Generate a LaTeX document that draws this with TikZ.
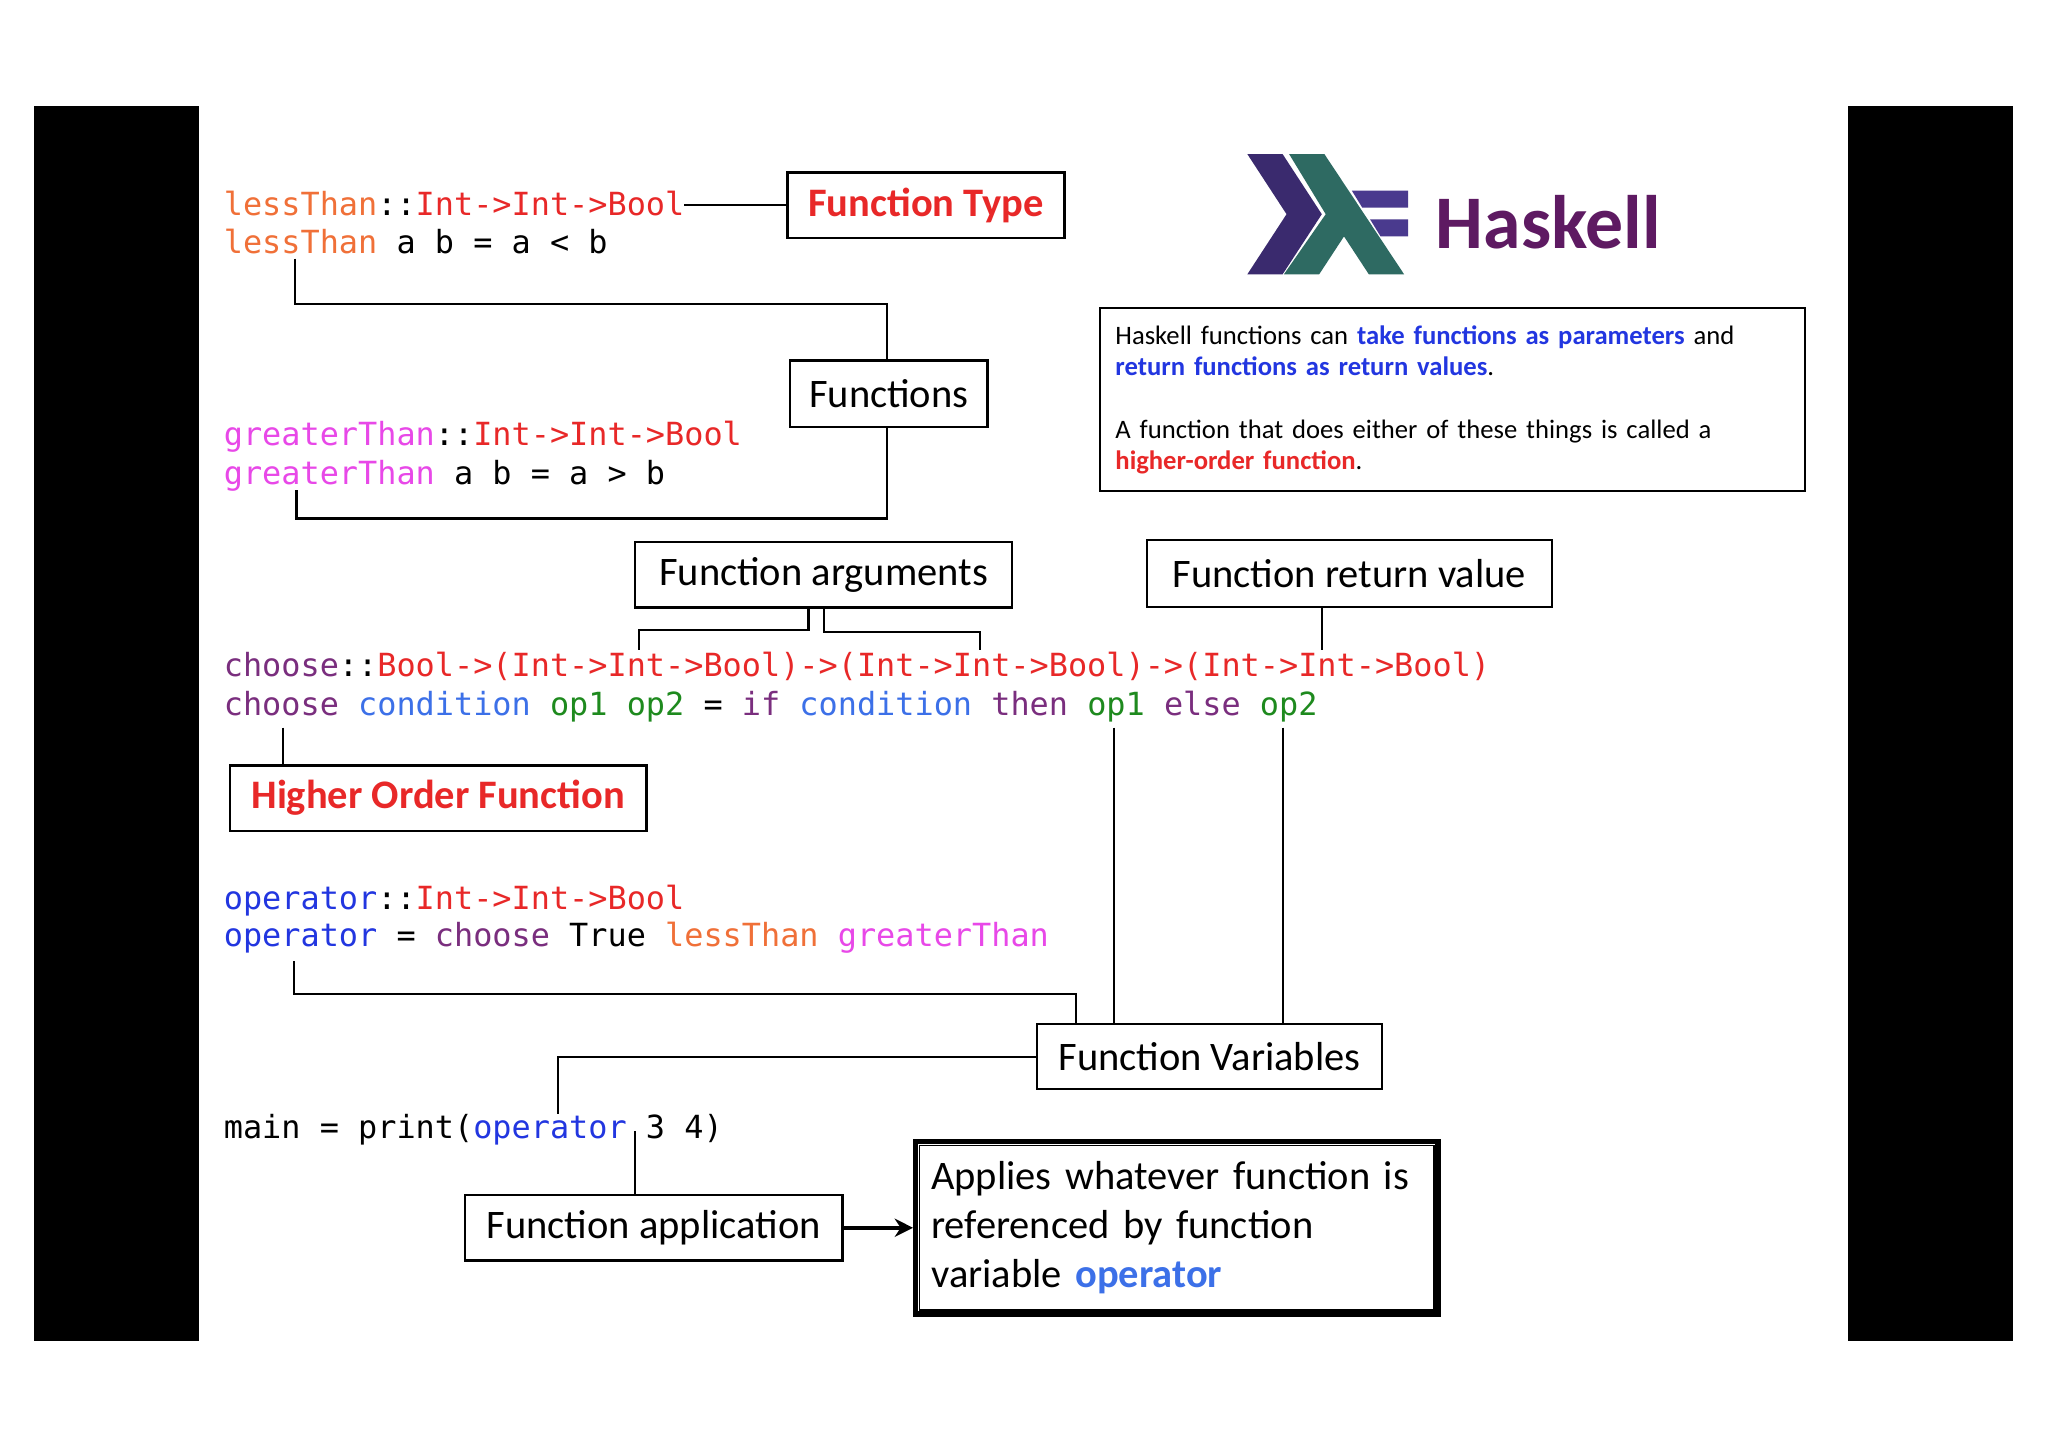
\documentclass[tikz,border=0pt]{standalone}
\usepackage{fontspec}
\setmainfont{Carlito}
\newfontfamily\monof{DejaVu Sans Mono}
\usetikzlibrary{arrows.meta}
\definecolor{cOr}{HTML}{F07038}
\definecolor{cRd}{HTML}{E82828}
\definecolor{cMg}{HTML}{E848E8}
\definecolor{cPu}{HTML}{7A2E7E}
\definecolor{cBl}{HTML}{3C70E8}
\definecolor{cDb}{HTML}{2236E0}
\definecolor{cGr}{HTML}{1E8A1E}
\definecolor{hsk}{HTML}{5E1A62}
\definecolor{lgA}{HTML}{3A2A6E}
\definecolor{lgB}{HTML}{2E6A62}
\definecolor{lgC}{HTML}{4A3A8E}
\begin{document}
\begin{tikzpicture}[x=0.5pt,y=-0.5pt,
  box/.style={draw,line width=0.9pt,inner sep=0pt,font=\fontsize{15.5}{18}\selectfont},
  code/.style={anchor=base west,inner sep=0pt,font=\monof\fontsize{12.2}{14}\selectfont},
  ln/.style={line width=0.8pt}]
\useasboundingbox (0,0) rectangle (1568,1108);
\fill[white] (0,0) rectangle (1568,1108);
\fill[black] (26,81) rectangle (152,1027);
\fill[black] (1415,81) rectangle (1541,1027);
% code
\node[code] (l1) at (171,165) {\textcolor{cOr}{lessThan}::\textcolor{cRd}{Int->Int->Bool}};
\node[code] (l2) at (171,194) {\textcolor{cOr}{lessThan} a b = a < b};
\node[code] (g1) at (171,341) {\textcolor{cMg}{greaterThan}::\textcolor{cRd}{Int->Int->Bool}};
\node[code] (g2) at (171,371) {\textcolor{cMg}{greaterThan} a b = a > b};
\node[code] (c1) at (171,518) {\textcolor{cPu}{choose}::\textcolor{cRd}{Bool->(Int->Int->Bool)->(Int->Int->Bool)->(Int->Int->Bool)}};
\node[code] (c2) at (171,548) {\textcolor{cPu}{choose} \textcolor{cBl}{condition} \textcolor{cGr}{op1} \textcolor{cGr}{op2} = \textcolor{cPu}{if} \textcolor{cBl}{condition} \textcolor{cPu}{then} \textcolor{cGr}{op1} \textcolor{cPu}{else} \textcolor{cGr}{op2}};
\node[code] (o1) at (171,696) {\textcolor{cDb}{operator}::\textcolor{cRd}{Int->Int->Bool}};
\node[code] (o2) at (171,725) {\textcolor{cDb}{operator} = \textcolor{cPu}{choose} True \textcolor{cOr}{lessThan} \textcolor{cMg}{greaterThan}};
\node[code] (m1) at (171,872) {main = print(\textcolor{cDb}{operator} 3 4)};
% boxes
\node[box,minimum width=106pt,minimum height=25pt,text=cRd,font=\bfseries\fontsize{15.5}{18}\selectfont] (ft) at (709,157) {Function Type};
\node[box,minimum width=75.5pt,minimum height=25.5pt] (fn) at (680.5,301.5) {Functions};
\node[box,minimum width=144.5pt,minimum height=25pt] (fa) at (630.5,440) {Function arguments};
\node[box,minimum width=155pt,minimum height=25.5pt] (fr) at (1033,439) {Function return value};
\node[box,minimum width=159.5pt,minimum height=25pt,text=cRd,font=\bfseries\fontsize{15.5}{18}\selectfont] (ho) at (335.5,611) {Higher Order Function};
\node[box,minimum width=132pt,minimum height=25pt] (fv) at (926,809) {Function Variables};
\node[box,minimum width=144.5pt,minimum height=25pt] (fp) at (500.5,940) {Function application};
\node[box,line width=2pt,minimum width=198pt,minimum height=66pt,text width=188pt,align=left,inner xsep=6pt,font=\fontsize{15.5}{18.75}\selectfont] (ap) at (901,940) {Applies whatever function is\\referenced by function\\variable \textcolor{cBl}{\bfseries operator}};
\draw[line width=0.6pt] ([shift={(5,-5)}]ap.south west) rectangle ([shift={(-5,5)}]ap.north east);
\node[box,minimum width=268pt,minimum height=70pt,text width=258pt,align=left,inner xsep=6pt,font=\fontsize{10.2}{12}\selectfont] (ib) at (1112,306) {Haskell functions can \textcolor{cDb}{\bfseries take functions as parameters} and\\\textcolor{cDb}{\bfseries return functions as return values}.\\[12pt]A function that does either of these things is called a\\\textcolor{cRd}{\bfseries higher-order function}.};
% logo
\fill[lgA] (955,118)--(982,118)--(1012,164)--(982,210)--(955,210)--(985,164)--cycle;
\fill[lgB] (987,118)--(1014,118)--(1075,210)--(1048,210)--(1029,181)--(1010,210)--(983,210)--(1015,164)--cycle;
\fill[lgC] (1035,146)--(1078,146)--(1078,159)--(1043,159)--cycle;
\fill[lgC] (1049,168)--(1078,168)--(1078,181)--(1057,181)--cycle;
\node[anchor=west,inner sep=0pt,text=hsk,font=\bfseries\fontsize{29}{32}\selectfont] (hk) at (1099,170) {Haskell};
% connectors
\coordinate (e1) at (524,157);
\draw[ln] (e1) -- (ft.west);
\coordinate (a1) at (226,198);
\draw[ln] (a1) -- (226,233) -- (679,233) -- (fn.north -| 679,0);
\coordinate (a2) at (227,375);
\draw[ln] (fn.south -| 679,0) -- (679,397) -- (227,397) -- (a2);
\coordinate (b1) at (489,498); \coordinate (b2) at (750,498);
\draw[ln] (fa.south -| 619,0) -- (619,482) -- (489,482) -- (b1);
\draw[ln] (fa.south -| 631,0) -- (631,484) -- (750,484) -- (b2);
\coordinate (b3) at (1012,498);
\draw[ln] (fr.south -| 1012,0) -- (b3);
\coordinate (h1) at (217,557);
\draw[ln] (h1) -- (ho.north -| 217,0);
\coordinate (p1) at (225,736);
\draw[ln] (p1) -- (225,761) -- (824,761) -- (fv.north -| 824,0);
\coordinate (q1) at (853,557); \coordinate (q2) at (982,557);
\draw[ln] (q1) -- (fv.north -| 853,0);
\draw[ln] (q2) -- (fv.north -| 982,0);
\coordinate (r1) at (427,853);
\draw[ln] (fv.west) -- (427,809) -- (r1);
\coordinate (s1) at (486,866);
\draw[ln] (s1) -- (fp.north -| 486,0);
\draw[line width=1.6pt,-{Stealth[length=7pt,width=7pt]}] (fp.east) -- (ap.west);
\end{tikzpicture}
\end{document}
